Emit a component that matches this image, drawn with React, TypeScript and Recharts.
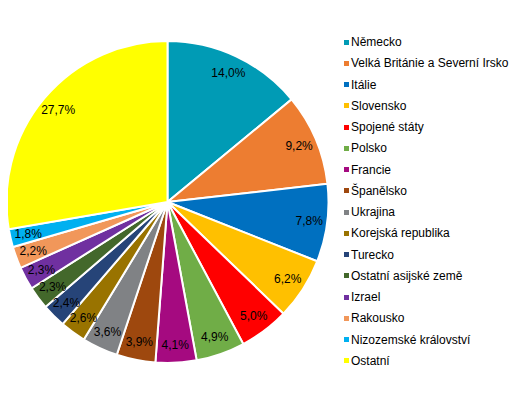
import React from "react";
import { PieChart, Pie, Cell, Legend } from "recharts";

const countries = [
  "Německo",
  "Velká Británie a Severní Irsko",
  "Itálie",
  "Slovensko",
  "Spojené státy",
  "Polsko",
  "Francie",
  "Španělsko",
  "Ukrajina",
  "Korejská republika",
  "Turecko",
  "Ostatní asijské země",
  "Izrael",
  "Rakousko",
  "Nizozemské království",
  "Ostatní",
];

const shares = [14.0, 9.2, 7.8, 6.2, 5.0, 4.9, 4.1, 3.9, 3.6, 2.6, 2.4, 2.3, 2.3, 2.2, 1.8, 27.7];

const colors = [
  "#009BB5",
  "#ED7D31",
  "#0070C0",
  "#FFC000",
  "#FF0000",
  "#70AD47",
  "#A50A80",
  "#9E480E",
  "#808285",
  "#997300",
  "#264478",
  "#43682B",
  "#7030A0",
  "#F1975A",
  "#00B0F0",
  "#FFFF00",
];

const data = countries.map((name, i) => ({ name, value: shares[i] }));

const RAD = Math.PI / 180;

const renderLabel = (props: any) => {
  const { cx, cy, midAngle, outerRadius, index } = props;
  const r = outerRadius - 18;
  const x = cx + r * Math.cos(-midAngle * RAD);
  const y = cy + r * Math.sin(-midAngle * RAD);
  return (
    <text
      x={x}
      y={y}
      textAnchor="middle"
      dominantBaseline="central"
      fontSize={12}
      fontFamily="'Liberation Sans', Arial, sans-serif"
      fill="#000"
    >
      {shares[index].toFixed(1).replace(".", ",") + "%"}
    </text>
  );
};

const renderLegend = () => (
  <div style={{ fontFamily: "'Liberation Sans', Arial, sans-serif", fontSize: 12, color: "#000" }}>
    {countries.map((c, i) => (
      <div key={c} style={{ height: 21.25, display: "flex", alignItems: "center", whiteSpace: "nowrap" }}>
        <span
          style={{
            display: "inline-block",
            width: 5,
            height: 5,
            background: colors[i],
            marginRight: 2,
          }}
        />
        <span>{c}</span>
      </div>
    ))}
  </div>
);

export default function App() {
  return (
    <PieChart width={509} height={395} margin={{ top: 0, right: 0, bottom: 0, left: 0 }}>
      <Pie
        data={data}
        dataKey="value"
        nameKey="name"
        cx={159.5}
        cy={194}
        outerRadius={161}
        startAngle={90}
        endAngle={-270}
        stroke="#fff"
        strokeWidth={2}
        label={renderLabel}
        labelLine={false}
        isAnimationActive={false}
      >
        {data.map((d, i) => (
          <Cell key={d.name} fill={colors[i]} />
        ))}
      </Pie>
      <Legend
        content={renderLegend}
        layout="vertical"
        wrapperStyle={{ position: "absolute", left: 336, top: 23.5, width: 175 }}
      />
    </PieChart>
  );
}
